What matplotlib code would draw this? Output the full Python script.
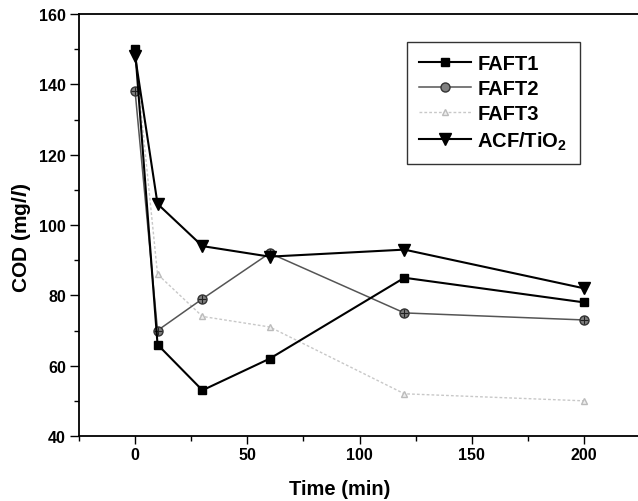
import matplotlib
matplotlib.use("Agg")
import matplotlib.pyplot as plt
from matplotlib.ticker import MultipleLocator, FixedLocator

plt.rcParams['font.family'] = ['Liberation Sans', 'DejaVu Sans']
plt.rcParams['font.weight'] = 'bold'
plt.rcParams['mathtext.fontset'] = 'custom'
plt.rcParams['mathtext.rm'] = 'Liberation Sans:bold'
plt.rcParams['mathtext.it'] = 'Liberation Sans:bold:italic'
plt.rcParams['mathtext.bf'] = 'Liberation Sans:bold'

time = [0, 10, 30, 60, 120, 200]
faft1 = [150, 66, 53, 62, 85, 78]
faft2 = [138, 70, 79, 92, 75, 73]
faft3 = [149, 86, 74, 71, 52, 50]
acf = [148, 106, 94, 91, 93, 82]
labels = ['FAFT1', 'FAFT2', 'FAFT3', r'ACF/TiO$_2$']
xticks = [0, 50, 100, 150, 200]

fig = plt.figure(figsize=(6.38, 5.02), dpi=100)
ax = fig.add_axes([79/638, 1-437/502, (640-79)/638, (437-15)/502])

ax.plot(time, faft1, color='black', lw=1.5, marker='s', ms=5.5, mfc='black', mec='black', label=labels[0], zorder=4)
ax.plot(time, faft2, color='#555555', lw=1.1, marker='o', ms=6.5, mfc='#808080', mec='#333333', label=labels[1], zorder=3)
ax.plot(time, faft2, ls='none', marker='+', ms=6, mec='#222222', mew=0.8, zorder=3.5)
ax.plot(time, faft3, color='#c8c8c8', lw=1.0, ls=(0, (2, 1.5)), marker='^', ms=5, mfc='#eeeeee', mec='#bbbbbb', label=labels[2], zorder=2)
ax.plot(time, acf, color='black', lw=1.5, marker='v', ms=8.5, mfc='black', mec='black', label=labels[3], zorder=5)

ax.set_xlim(-25, 225)
ax.set_ylim(40, 160)
ax.xaxis.set_major_locator(FixedLocator(xticks))
ax.xaxis.set_minor_locator(MultipleLocator(25))
ax.yaxis.set_major_locator(MultipleLocator(20))
ax.yaxis.set_minor_locator(MultipleLocator(10))
ax.tick_params(which='both', direction='out', top=False, right=False, labelsize=11.5)
ax.tick_params(axis='y', which='major', length=6.5, width=1, pad=3)
ax.tick_params(axis='x', which='major', length=6, width=1, pad=2)
ax.tick_params(which='minor', length=3.6, width=1)
for s in ax.spines.values():
    s.set_linewidth(1.3)

ax.set_xlabel('Time (min)', fontsize=14.5, fontweight='bold', labelpad=12)
ax.set_ylabel(r'COD (mg/$\mathit{l}$)', fontsize=15, fontweight='bold', labelpad=4)
ax.xaxis.label.set_x(0.465)
ax.yaxis.label.set_y(0.472)

leg = ax.legend(loc='upper left', bbox_to_anchor=((407-79)/561, 1-(43-15)/422), fontsize=14.5,
                frameon=True, fancybox=False, edgecolor='black', borderpad=0.6,
                handlelength=2.6, labelspacing=0.3, handletextpad=0.3, borderaxespad=0)
leg.get_frame().set_linewidth(1.0)
for t in leg.get_texts():
    t.set_fontweight('bold')

fig.savefig('out.png', dpi=100)
